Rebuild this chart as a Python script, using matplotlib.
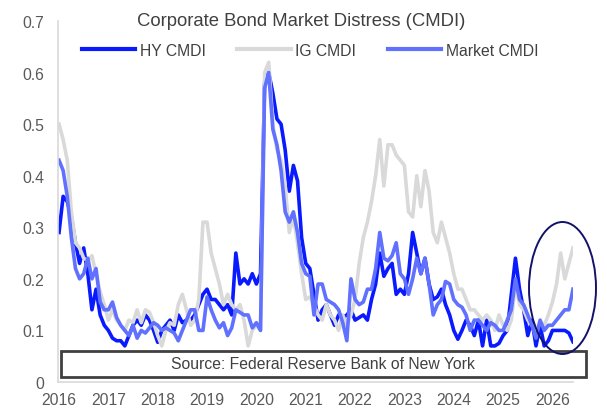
import numpy as np
import matplotlib
matplotlib.use("Agg")
import matplotlib.pyplot as plt
from matplotlib.patches import Rectangle, Ellipse
from matplotlib.lines import Line2D

plt.rcParams['font.family'] = ['Liberation Sans', 'DejaVu Sans']

# Monthly readings, Jan 2016 - Jun 2026
years = [2016, 2017, 2018, 2019, 2020, 2021, 2022, 2023, 2024, 2025, 2026]

hy_cmdi = [
    0.29, 0.36, 0.35, 0.32, 0.27, 0.23, 0.26, 0.21, 0.14, 0.18, 0.13, 0.11,
    0.10, 0.085, 0.08, 0.08, 0.07, 0.09, 0.11, 0.12, 0.11, 0.13, 0.12, 0.10,
    0.077, 0.10, 0.11, 0.12, 0.10, 0.13, 0.115, 0.12, 0.12, 0.13, 0.15, 0.17,
    0.18, 0.16, 0.16, 0.15, 0.14, 0.15, 0.13, 0.25, 0.19, 0.20, 0.19, 0.21,
    0.19, 0.21, 0.58, 0.60, 0.56, 0.51, 0.50, 0.45, 0.37, 0.42, 0.39, 0.28,
    0.23, 0.22, 0.17, 0.12, 0.14, 0.15, 0.13, 0.11, 0.13, 0.125, 0.13, 0.14,
    0.12, 0.125, 0.13, 0.12, 0.16, 0.19, 0.25, 0.205, 0.22, 0.23, 0.17, 0.18,
    0.17, 0.21, 0.29, 0.25, 0.21, 0.24, 0.19, 0.16, 0.165, 0.18, 0.15, 0.13,
    0.10, 0.083, 0.10, 0.12, 0.11, 0.09, 0.12, 0.07, 0.12, 0.07, 0.07, 0.075,
    0.09, 0.10, 0.17, 0.24, 0.18, 0.14, 0.09, 0.12, 0.07, 0.11, 0.07, 0.08,
    0.10, 0.10, 0.10, 0.10, 0.095, 0.078,
]

ig_cmdi = [
    0.50, 0.47, 0.43, 0.33, 0.27, 0.26, 0.24, 0.235, 0.245, 0.21, 0.175, 0.15,
    0.12, 0.14, 0.12, 0.11, 0.10, 0.12, 0.115, 0.14, 0.115, 0.14, 0.135, 0.115,
    0.09, 0.07, 0.10, 0.115, 0.11, 0.15, 0.17, 0.14, 0.11, 0.12, 0.16, 0.31,
    0.31, 0.25, 0.22, 0.19, 0.15, 0.17, 0.15, 0.14, 0.15, 0.12, 0.07, 0.10,
    0.11, 0.10, 0.60, 0.62, 0.50, 0.45, 0.43, 0.38, 0.29, 0.32, 0.27, 0.21,
    0.16, 0.165, 0.15, 0.13, 0.12, 0.15, 0.13, 0.12, 0.10, 0.13, 0.11, 0.13,
    0.16, 0.23, 0.28, 0.31, 0.35, 0.40, 0.47, 0.38, 0.46, 0.46, 0.44, 0.43,
    0.42, 0.33, 0.32, 0.40, 0.34, 0.41, 0.37, 0.29, 0.27, 0.31, 0.28, 0.25,
    0.21, 0.18, 0.18, 0.16, 0.14, 0.14, 0.13, 0.12, 0.13, 0.12, 0.10, 0.13,
    0.11, 0.10, 0.12, 0.19, 0.15, 0.14, 0.12, 0.11, 0.10, 0.115, 0.11, 0.13,
    0.155, 0.19, 0.25, 0.20, 0.23, 0.26,
]

market_cmdi = [
    0.43, 0.41, 0.36, 0.28, 0.22, 0.20, 0.21, 0.24, 0.20, 0.22, 0.155, 0.14,
    0.14, 0.155, 0.125, 0.11, 0.10, 0.09, 0.11, 0.085, 0.10, 0.095, 0.105, 0.115,
    0.11, 0.10, 0.105, 0.10, 0.095, 0.08, 0.10, 0.12, 0.14, 0.14, 0.10, 0.10,
    0.165, 0.14, 0.12, 0.105, 0.115, 0.09, 0.105, 0.14, 0.135, 0.13, 0.13, 0.105,
    0.115, 0.10, 0.57, 0.60, 0.49, 0.46, 0.41, 0.33, 0.31, 0.33, 0.29, 0.23,
    0.21, 0.205, 0.13, 0.19, 0.19, 0.16, 0.155, 0.15, 0.14, 0.115, 0.08, 0.20,
    0.16, 0.15, 0.155, 0.18, 0.18, 0.22, 0.29, 0.24, 0.235, 0.245, 0.27, 0.21,
    0.20, 0.17, 0.20, 0.24, 0.21, 0.24, 0.19, 0.13, 0.15, 0.16, 0.195, 0.19,
    0.16, 0.15, 0.145, 0.13, 0.10, 0.12, 0.12, 0.11, 0.10, 0.115, 0.11, 0.10,
    0.10, 0.12, 0.14, 0.20, 0.16, 0.15, 0.13, 0.11, 0.085, 0.12, 0.10, 0.11,
    0.11, 0.12, 0.13, 0.14, 0.14, 0.18,
]

series_names = ["HY CMDI", "IG CMDI", "Market CMDI"]
series_colors = ["#0A1AFF", "#D9D9D9", "#6070FF"]
y_ticks = [0, 0.1, 0.2, 0.3, 0.4, 0.5, 0.6, 0.7]
y_labels = ["0", "0.1", "0.2", "0.3", "0.4", "0.5", "0.6", "0.7"]

W, H = 607, 410
fig = plt.figure(figsize=(W / 100, H / 100), dpi=100)
ax = fig.add_axes([58 / W, (H - 383) / H, (573 - 58) / W, (383 - 22) / H])

months = np.arange(len(hy_cmdi))
for vals, name, col in zip([hy_cmdi, ig_cmdi, market_cmdi], series_names, series_colors):
    ax.plot(months, vals, color=col, lw=2.6, solid_joinstyle='round', label=name)

ax.set_xlim(-0.25, 125.0)
ax.set_ylim(0, 0.7)
ax.set_yticks(y_ticks)
ax.set_yticklabels(y_labels)
ax.set_xticks([12 * k for k in range(len(years))])
ax.set_xticklabels([str(y) for y in years])
ax.tick_params(length=0, labelsize=11.3, colors="#595959")
ax.tick_params(axis='y', pad=10)
ax.tick_params(axis='x', pad=7.5)
for s in ["top", "right"]:
    ax.spines[s].set_visible(False)
for s in ["left", "bottom"]:
    ax.spines[s].set_color("#D9D9D9")
    ax.spines[s].set_linewidth(1.2)

fig.text(301 / W, 1 - 22 / H, "Corporate Bond Market Distress (CMDI)",
         ha="center", va="center", fontsize=13.3, color="#404040")

handles = [Line2D([], [], color=c, lw=3.0) for c in series_colors]
fig.legend(handles, series_names, loc="center", bbox_to_anchor=(310 / W, 1 - 51 / H),
           ncol=3, frameon=False, fontsize=11.3, handlelength=3.4, handletextpad=0.3,
           columnspacing=2.0, labelcolor="#404040")

fig.patches.append(Rectangle((61 / W, 1 - 378 / H), (586 - 61) / W, (378 - 352) / H,
                             transform=fig.transFigure, facecolor="white",
                             edgecolor="#404040", lw=2.0, zorder=5))
fig.text(323 / W, 1 - 365 / H, "Source: Federal Reserve Bank of New York",
         ha="center", va="center", fontsize=11.3, color="#404040", zorder=6)

fig.patches.append(Ellipse((562.5 / W, 1 - 289 / H), 67 / W, 132 / H,
                           transform=fig.transFigure, facecolor="none",
                           edgecolor="#12126A", lw=1.4, zorder=6))

fig.savefig("out.png", dpi=100)
